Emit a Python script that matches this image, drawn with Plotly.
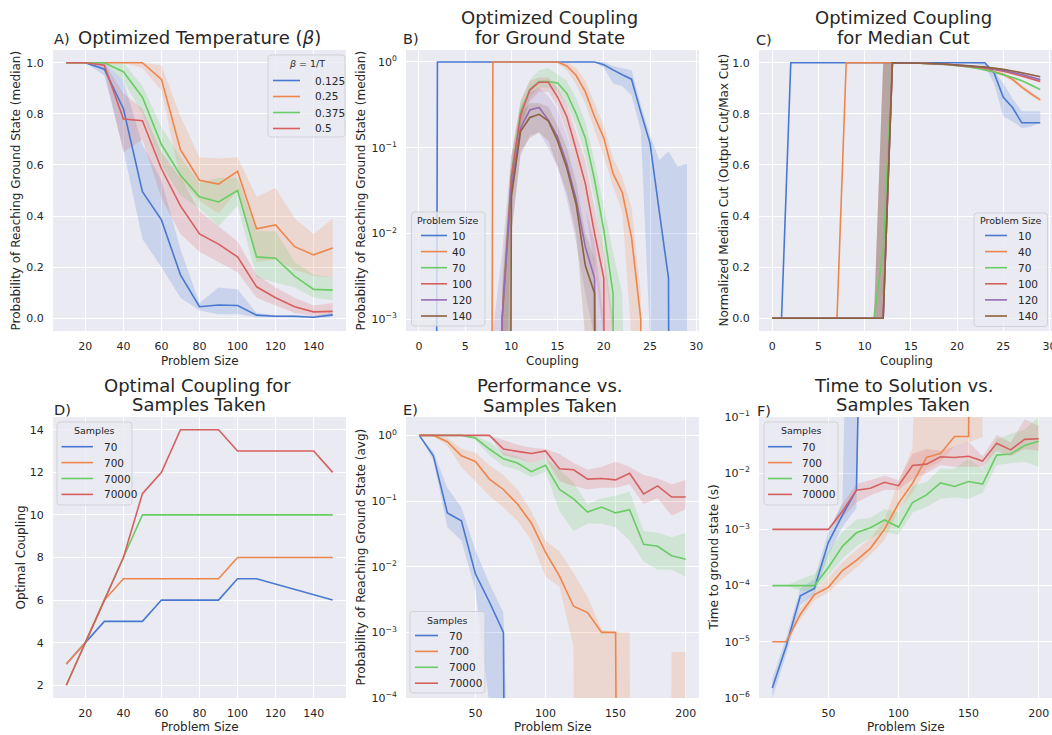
import numpy as np
import plotly.graph_objects as go

W, H = 1052, 735
FONT = "DejaVu Sans"
TEXT = "#262626"
BG = "#EAEAF2"

BLUE, ORANGE, GREEN, RED, PURPLE, BROWN = (
    "#4878d0", "#ee854a", "#6acc64", "#d65f5f", "#956cb4", "#8c613c")

# ---------------- A) success probability vs size for several beta ----------------
a_size = [10, 20, 30, 40, 50, 60, 70, 80, 90, 100, 110, 120, 130, 140, 150]
a_beta_labels = ["0.125", "0.25", "0.375", "0.5"]
a_b0125 = [1.0, 1.0, 0.975, 0.82, 0.495, 0.385, 0.17, 0.045, 0.052, 0.05, 0.012, 0.008, 0.008, 0.004, 0.013]
a_b0125_lo = [1.0, 1.0, 0.95, 0.66, 0.31, 0.2, 0.08, 0.03, 0.016, 0.016, 0.004, 0.003, 0.003, 0.002, 0.004]
a_b0125_hi = [1.0, 1.0, 1.0, 0.93, 0.68, 0.54, 0.27, 0.06, 0.12, 0.113, 0.02, 0.012, 0.012, 0.01, 0.02]
a_b025 = [1.0, 1.0, 1.0, 1.0, 1.0, 0.935, 0.66, 0.54, 0.525, 0.575, 0.35, 0.365, 0.28, 0.248, 0.275]
a_b025_lo = [1.0, 1.0, 1.0, 1.0, 0.98, 0.89, 0.54, 0.46, 0.41, 0.5, 0.22, 0.23, 0.19, 0.165, 0.16]
a_b025_hi = [1.0, 1.0, 1.0, 1.0, 1.0, 0.99, 0.79, 0.63, 0.625, 0.63, 0.476, 0.51, 0.39, 0.33, 0.39]
a_b0375 = [1.0, 1.0, 1.0, 0.965, 0.865, 0.68, 0.56, 0.475, 0.455, 0.5, 0.24, 0.235, 0.165, 0.113, 0.11]
a_b0375_lo = [1.0, 1.0, 1.0, 0.93, 0.8, 0.6, 0.48, 0.43, 0.36, 0.44, 0.16, 0.14, 0.12, 0.08, 0.07]
a_b0375_hi = [1.0, 1.0, 1.0, 1.0, 0.91, 0.75, 0.63, 0.53, 0.55, 0.55, 0.34, 0.34, 0.22, 0.17, 0.16]
a_b05 = [1.0, 1.0, 0.99, 0.78, 0.773, 0.585, 0.44, 0.33, 0.29, 0.24, 0.123, 0.08, 0.045, 0.025, 0.027]
a_b05_lo = [1.0, 1.0, 0.97, 0.65, 0.7, 0.47, 0.33, 0.26, 0.22, 0.18, 0.08, 0.05, 0.02, 0.01, 0.01]
a_b05_hi = [1.0, 1.0, 1.0, 0.88, 0.82, 0.65, 0.55, 0.42, 0.36, 0.3, 0.17, 0.12, 0.08, 0.05, 0.06]

# ---------------- B) ground-state probability vs coupling ----------------
b_coupling = list(range(30))
size_labels = ["10", "40", "70", "100", "120", "140"]
b_n10 = [0, 0, 1, 1, 1, 1, 1, 1, 1, 1, 1, 1, 1, 1, 1, 1, 1, 1, 1, 1,
         0.93, 0.81, 0.71, 0.63, 0.26, 0.113, 0.018, 0.003, 0, 0]
b_n10_lo = [0, 0, 1, 1, 1, 1, 1, 1, 1, 1, 1, 1, 1, 1, 1, 1, 1, 1, 1, 1,
            0.86, 0.56, 0.52, 0.41, 0.16, 0.0006, 0, 0, 0, 0]
b_n10_hi = [0, 0, 1, 1, 1, 1, 1, 1, 1, 1, 1, 1, 1, 1, 1, 1, 1, 1, 1, 1,
            1.0, 0.9, 0.85, 0.8, 0.32, 0.14, 0.072, 0.09, 0.06, 0.065]
b_n40 = [0, 0, 0, 0, 0, 0, 0, 0, 1, 1, 1, 1, 1, 1, 1, 1,
         0.9, 0.7, 0.45, 0.23, 0.13, 0.05, 0.03, 0.009, 0.001, 0, 0, 0, 0, 0]
b_n40_lo = [0, 0, 0, 0, 0, 0, 0, 0, 1, 1, 1, 1, 1, 1, 1, 0.97,
            0.8, 0.55, 0.33, 0.16, 0.08, 0.035, 0.018, 0.0006, 0, 0, 0, 0, 0, 0]
b_n40_hi = [0, 0, 0, 0, 0, 0, 0, 0, 1, 1, 1, 1, 1, 1, 1, 1,
            1.0, 0.85, 0.6, 0.33, 0.18, 0.075, 0.045, 0.02, 0.002, 0, 0, 0, 0, 0]
b_n70 = [0, 0, 0, 0, 0, 0, 0, 0, 0, 0.001, 0.045, 0.26, 0.48, 0.59, 0.59, 0.57,
         0.43, 0.25, 0.13, 0.042, 0.011, 0.002, 0, 0, 0, 0, 0, 0, 0, 0]
b_n70_lo = [0, 0, 0, 0, 0, 0, 0, 0, 0, 0, 0.02, 0.18, 0.38, 0.5, 0.5, 0.45,
            0.32, 0.18, 0.08, 0.025, 0.005, 0.0006, 0, 0, 0, 0, 0, 0, 0, 0]
b_n70_hi = [0, 0, 0, 0, 0, 0, 0, 0, 0, 0.003, 0.08, 0.35, 0.62, 0.8, 0.85, 0.72,
            0.6, 0.38, 0.2, 0.07, 0.02, 0.006, 0.002, 0, 0, 0, 0, 0, 0, 0]
b_n100 = [0, 0, 0, 0, 0, 0, 0, 0, 0, 0.001, 0.045, 0.24, 0.47, 0.58, 0.58, 0.39,
          0.23, 0.095, 0.038, 0.01, 0.003, 0, 0, 0, 0, 0, 0, 0, 0, 0]
b_n100_lo = [0, 0, 0, 0, 0, 0, 0, 0, 0, 0, 0.02, 0.15, 0.35, 0.45, 0.45, 0.3,
             0.15, 0.06, 0.02, 0.004, 0.0006, 0, 0, 0, 0, 0, 0, 0, 0, 0]
b_n100_hi = [0, 0, 0, 0, 0, 0, 0, 0, 0, 0.002, 0.08, 0.35, 0.6, 0.66, 0.66, 0.5,
             0.32, 0.15, 0.07, 0.02, 0.006, 0.001, 0, 0, 0, 0, 0, 0, 0, 0]
b_n120 = [0, 0, 0, 0, 0, 0, 0, 0, 0, 0.001, 0.035, 0.17, 0.275, 0.295, 0.21, 0.134,
          0.065, 0.025, 0.007, 0.003, 0, 0, 0, 0, 0, 0, 0, 0, 0, 0]
b_n120_lo = [0, 0, 0, 0, 0, 0, 0, 0, 0, 0, 0.01, 0.08, 0.14, 0.15, 0.1, 0.06,
             0.025, 0.008, 0.002, 0.0006, 0, 0, 0, 0, 0, 0, 0, 0, 0, 0]
b_n120_hi = [0, 0, 0, 0, 0, 0, 0, 0, 0.0007, 0.006, 0.08, 0.3, 0.45, 0.5, 0.4, 0.28,
             0.14, 0.06, 0.02, 0.008, 0.001, 0, 0, 0, 0, 0, 0, 0, 0, 0]
b_n140 = [0, 0, 0, 0, 0, 0, 0, 0, 0, 0, 0.027, 0.155, 0.225, 0.245, 0.205, 0.12,
          0.058, 0.022, 0.0042, 0.002, 0, 0, 0, 0, 0, 0, 0, 0, 0, 0]
b_n140_lo = [0, 0, 0, 0, 0, 0, 0, 0, 0, 0, 0.01, 0.09, 0.13, 0.15, 0.12, 0.06,
             0.03, 0.01, 0.0006, 0, 0, 0, 0, 0, 0, 0, 0, 0, 0, 0]
b_n140_hi = [0, 0, 0, 0, 0, 0, 0, 0, 0, 0.002, 0.06, 0.25, 0.33, 0.33, 0.3, 0.18,
             0.1, 0.04, 0.01, 0.005, 0, 0, 0, 0, 0, 0, 0, 0, 0, 0]

# ---------------- C) normalised median cut vs coupling ----------------
c_coupling = list(range(30))
c_n10 = [0, 0, 1, 1, 1, 1, 1, 1, 1, 1, 1, 1, 1, 1, 1, 1, 1, 1, 1, 1, 1, 1, 1, 1,
         0.96, 0.865, 0.825, 0.765, 0.765, 0.765]
c_n10_lo = [0, 0, 1, 1, 1, 1, 1, 1, 1, 1, 1, 1, 1, 1, 1, 1, 1, 1, 1, 1, 1, 1, 0.995, 0.985,
            0.92, 0.79, 0.77, 0.745, 0.75, 0.765]
c_n10_hi = [0, 0, 1, 1, 1, 1, 1, 1, 1, 1, 1, 1, 1, 1, 1, 1, 1, 1, 1, 1, 1, 1, 1, 1,
            0.97, 0.92, 0.86, 0.81, 0.81, 0.81]
c_n40 = [0, 0, 0, 0, 0, 0, 0, 0, 1, 1, 1, 1, 1, 1, 1, 0.999, 0.998, 0.997, 0.995, 0.993,
         0.99, 0.986, 0.981, 0.975, 0.965, 0.955, 0.935, 0.905, 0.878, 0.855]
c_n40_lo = [0, 0, 0, 0, 0, 0, 0, 0, 1, 1, 1, 1, 1, 1, 1, 0.998, 0.997, 0.995, 0.993, 0.99,
            0.987, 0.982, 0.976, 0.969, 0.958, 0.947, 0.927, 0.897, 0.87, 0.848]
c_n40_hi = [0, 0, 0, 0, 0, 0, 0, 0, 1, 1, 1, 1, 1, 1, 1, 1, 0.999, 0.998, 0.997, 0.995,
            0.993, 0.99, 0.986, 0.98, 0.972, 0.963, 0.943, 0.913, 0.886, 0.862]
c_n70 = [0, 0, 0, 0, 0, 0, 0, 0, 0, 0, 0, 0, 0.27, 1, 0.999, 0.999, 0.998, 0.996, 0.994, 0.992,
         0.989, 0.985, 0.98, 0.972, 0.964, 0.953, 0.942, 0.93, 0.913, 0.895]
c_n70_lo = [0, 0, 0, 0, 0, 0, 0, 0, 0, 0, 0, 0, 0, 1, 0.999, 0.998, 0.997, 0.995, 0.993, 0.99,
            0.987, 0.983, 0.977, 0.969, 0.96, 0.949, 0.938, 0.925, 0.908, 0.89]
c_n70_hi = [0, 0, 0, 0, 0, 0, 0, 0, 0, 0, 0, 0, 1, 1, 1, 1, 0.999, 0.997, 0.995, 0.993,
            0.991, 0.987, 0.983, 0.975, 0.968, 0.957, 0.946, 0.935, 0.918, 0.9]
c_n100 = [0, 0, 0, 0, 0, 0, 0, 0, 0, 0, 0, 0, 0, 1, 0.999, 0.999, 0.998, 0.997, 0.995, 0.993,
          0.99, 0.987, 0.984, 0.98, 0.974, 0.967, 0.958, 0.948, 0.938, 0.927]
c_n100_lo = [0, 0, 0, 0, 0, 0, 0, 0, 0, 0, 0, 0, 0, 1, 0.999, 0.998, 0.997, 0.996, 0.994, 0.992,
             0.988, 0.985, 0.982, 0.977, 0.971, 0.964, 0.955, 0.945, 0.934, 0.923]
c_n100_hi = [0, 0, 0, 0, 0, 0, 0, 0, 0, 0, 0, 0, 1, 1, 1, 1, 0.999, 0.998, 0.996, 0.994,
             0.992, 0.989, 0.986, 0.983, 0.977, 0.97, 0.961, 0.951, 0.942, 0.931]
c_n120 = [0, 0, 0, 0, 0, 0, 0, 0, 0, 0, 0, 0, 0, 1, 0.999, 0.999, 0.998, 0.997, 0.996, 0.994,
          0.991, 0.988, 0.985, 0.982, 0.976, 0.97, 0.962, 0.954, 0.944, 0.934]
c_n120_lo = [0, 0, 0, 0, 0, 0, 0, 0, 0, 0, 0, 0, 0, 1, 0.999, 0.998, 0.997, 0.996, 0.995, 0.993,
             0.99, 0.987, 0.983, 0.98, 0.974, 0.968, 0.959, 0.951, 0.941, 0.931]
c_n120_hi = [0, 0, 0, 0, 0, 0, 0, 0, 0, 0, 0, 0, 1, 1, 1, 1, 0.999, 0.998, 0.997, 0.995,
             0.992, 0.99, 0.987, 0.984, 0.978, 0.972, 0.965, 0.957, 0.947, 0.937]
c_n140 = [0, 0, 0, 0, 0, 0, 0, 0, 0, 0, 0, 0, 0, 1, 0.999, 0.999, 0.998, 0.997, 0.996, 0.994,
          0.991, 0.989, 0.986, 0.983, 0.979, 0.974, 0.968, 0.961, 0.953, 0.945]
c_n140_lo = [0, 0, 0, 0, 0, 0, 0, 0, 0, 0, 0, 0, 0, 1, 0.999, 0.998, 0.997, 0.996, 0.995, 0.993,
             0.99, 0.988, 0.985, 0.981, 0.977, 0.972, 0.966, 0.959, 0.951, 0.942]
c_n140_hi = [0, 0, 0, 0, 0, 0, 0, 0, 0, 0, 0, 0, 1, 1, 1, 1, 0.999, 0.998, 0.997, 0.995,
             0.992, 0.99, 0.987, 0.985, 0.981, 0.976, 0.97, 0.963, 0.955, 0.948]

# ---------------- D) optimal coupling per sample budget ----------------
sample_labels = ["70", "700", "7000", "70000"]
d_size_70 = [10, 20, 30, 40, 50, 60, 70, 80, 90, 100, 110, 150]
d_s70 = [3, 4, 5, 5, 5, 6, 6, 6, 6, 7, 7, 6]
d_size = [10, 20, 30, 40, 50, 60, 70, 80, 90, 100, 110, 120, 130, 140, 150]
d_s700 = [3, 4, 6, 7, 7, 7, 7, 7, 7, 8, 8, 8, 8, 8, 8]
d_s7000 = [2, 4, 6, 8, 10, 10, 10, 10, 10, 10, 10, 10, 10, 10, 10]
d_s70000 = [2, 4, 6, 8, 11, 12, 14, 14, 14, 13, 13, 13, 13, 13, 12]

# ---------------- E) average success probability per sample budget ----------------
e_size = [10, 20, 30, 40, 50, 60, 70, 80, 90, 100, 110, 120, 130, 140, 150, 160, 170, 180, 190, 200]
e_s70 = [1, 0.49, 0.066, 0.05, 0.0078, 0.0029, 0.001, 0, 0, 0, 0, 0, 0, 0, 0, 0, 0, 0, 0, 0]
e_s70_lo = [1, 0.42, 0.04, 0.025, 0.0044, 8e-5, 0, 0, 0, 0, 0, 0, 0, 0, 0, 0, 0, 0, 0, 0]
e_s70_hi = [1, 0.56, 0.16, 0.08, 0.018, 0.0055, 0.002, 0, 0, 0, 0, 0, 0, 0, 0, 0, 0, 0, 0, 0]
e_s700 = [1, 1.0, 0.8, 0.49, 0.4, 0.216, 0.15, 0.09, 0.046, 0.0166, 0.0072, 0.0025, 0.002, 0.001,
          0.001, 0, 0, 0, 0, 0]
e_s700_lo = [1, 0.98, 0.7, 0.33, 0.2, 0.12, 0.08, 0.05, 0.025, 0.007, 0.005, 6e-4, 0, 0, 0, 0, 0, 0, 0, 0]
e_s700_hi = [1, 1, 0.92, 0.62, 0.55, 0.35, 0.25, 0.15, 0.07, 0.025, 0.017, 0.008, 0.0035, 0.0011,
             0.001, 0.001, 0, 0, 0.0005, 0.0005]
e_s7000 = [1, 1, 1, 1, 0.91, 0.62, 0.44, 0.38, 0.28, 0.35, 0.15, 0.108, 0.068, 0.081, 0.066, 0.074,
           0.022, 0.0205, 0.0147, 0.013]
e_s7000_lo = [1, 1, 1, 1, 0.85, 0.5, 0.34, 0.3, 0.23, 0.28, 0.07, 0.035, 0.045, 0.045, 0.04, 0.025,
              0.012, 0.009, 0.009, 0.007]
e_s7000_hi = [1, 1, 1, 1, 0.97, 0.8, 0.55, 0.48, 0.38, 0.45, 0.3, 0.19, 0.09, 0.11, 0.12, 0.14,
              0.035, 0.033, 0.028, 0.033]
e_s70000 = [1, 1, 1, 1, 1, 1, 0.62, 0.57, 0.53, 0.58, 0.31, 0.3, 0.216, 0.22, 0.21, 0.264,
            0.128, 0.17, 0.115, 0.115]
e_s70000_lo = [1, 1, 1, 1, 1, 0.98, 0.5, 0.45, 0.38, 0.45, 0.2, 0.17, 0.15, 0.16, 0.16, 0.18,
               0.09, 0.11, 0.06, 0.075]
e_s70000_hi = [1, 1, 1, 1, 1, 1, 0.85, 0.72, 0.65, 0.62, 0.52, 0.38, 0.3, 0.33, 0.4, 0.33,
               0.25, 0.22, 0.18, 0.21]

# ---------------- F) time to solution per sample budget ----------------
f_size_70 = [10, 20, 30, 40, 50, 60, 70, 80]
f_s70 = [1.5e-6, 8.5e-6, 6.6e-5, 8.9e-5, 5.9e-4, 1.8e-3, 5e-3, 1e10]
f_s70_lo = [1e-6, 6e-6, 4.5e-5, 7e-5, 3.5e-4, 1.1e-3, 2.4e-3, 1e10]
f_s70_hi = [2.2e-6, 1.2e-5, 9e-5, 1.3e-4, 9e-4, 3e-3, 1e9, 1e10]
f_size_700 = [10, 20, 30, 40, 50, 60, 70, 80, 90, 100, 110, 120, 130, 140, 150, 160]
f_s700 = [1e-5, 1e-5, 3.1e-5, 6.9e-5, 9.3e-5, 1.85e-4, 2.8e-4, 4.6e-4, 1e-3, 2.9e-3, 6.6e-3,
          1.9e-2, 2.25e-2, 4.5e-2, 4.5e-2, 1e30]
f_s700_lo = [1e-5, 1e-5, 2.5e-5, 5.5e-5, 7.5e-5, 1.3e-4, 2.1e-4, 3.5e-4, 6.5e-4, 2.2e-3, 4.5e-3,
             1.2e-2, 1.6e-2, 3e-2, 3.5e-2, 4.4e-2]
f_s700_hi = [1e-5, 1e-5, 4e-5, 8e-5, 1.4e-4, 2.6e-4, 4.3e-4, 7e-4, 1.5e-3, 7e-3, 2.8e-2,
             1e30, 1e30, 1e30, 1e30, 4.6e-2]
f_size = [10, 20, 30, 40, 50, 60, 70, 80, 90, 100, 110, 120, 130, 140, 150, 160, 170, 180, 190, 200]
f_s7000 = [1e-4, 1e-4, 1e-4, 1e-4, 2.1e-4, 5e-4, 8.7e-4, 1.07e-3, 1.47e-3, 1.1e-3, 3e-3, 4.1e-3,
           6.7e-3, 5.8e-3, 7.1e-3, 6.4e-3, 2.1e-2, 2.2e-2, 3.1e-2, 3.7e-2]
f_s7000_lo = [1e-4, 1e-4, 8e-5, 8e-5, 1.5e-4, 3e-4, 5e-4, 7e-4, 9e-4, 8e-4, 2e-3, 2.5e-3,
              3.5e-3, 3.7e-3, 3.5e-3, 4.5e-3, 1.4e-2, 1.5e-2, 1.6e-2, 1.3e-2]
f_s7000_hi = [1e-4, 1e-4, 1.3e-4, 1.6e-4, 4e-4, 9e-4, 1.5e-3, 1.6e-3, 2.3e-3, 2e-3, 6e-3, 7e-3,
              1.2e-2, 1.2e-2, 1.8e-2, 1.2e-2, 4e-2, 5e-2, 6e-2, 1e-1]
f_s70000 = [1e-3, 1e-3, 1e-3, 1e-3, 1e-3, 2.1e-3, 5e-3, 5.4e-3, 6.9e-3, 6e-3, 1.37e-2, 1.45e-2,
            1.96e-2, 1.9e-2, 2e-2, 1.64e-2, 3.4e-2, 2.6e-2, 4e-2, 4.1e-2]
f_s70000_lo = [1e-3, 1e-3, 1e-3, 1e-3, 1e-3, 1.6e-3, 3e-3, 4e-3, 5e-3, 5e-3, 8e-3, 1e-2,
               1.4e-2, 1.3e-2, 1.3e-2, 1.3e-2, 2.5e-2, 2e-2, 2.7e-2, 2.5e-2]
f_s70000_hi = [1e-3, 1e-3, 1e-3, 1e-3, 1e-3, 2.8e-3, 6.5e-3, 7.5e-3, 9e-3, 7.5e-3, 2.2e-2, 2.7e-2,
               2.5e-2, 3e-2, 3.6e-2, 2e-2, 4.8e-2, 3.5e-2, 9e-2, 7e-2]

# ------------------------------------------------------------------------------
LOG_FLOOR = 1e-40   # non-positive values on log axes are clipped here (like matplotlib)


def px_x(p):
    return p / W


def px_y(p):
    return 1 - p / H


def rgba(hex_color, alpha):
    h = hex_color.lstrip("#")
    return "rgba({},{},{},{})".format(int(h[0:2], 16), int(h[2:4], 16), int(h[4:6], 16), alpha)


fig = go.Figure()


def add_band(x, lo, hi, color, ax, log=False):
    lo = np.asarray(lo, float)
    hi = np.asarray(hi, float)
    if log:
        lo = np.clip(lo, LOG_FLOOR, None)
        hi = np.clip(hi, LOG_FLOOR, None)
    xs = list(x) + list(x)[::-1]
    ys = list(hi) + list(lo[::-1])
    fig.add_trace(go.Scatter(x=xs, y=ys, mode="lines", fill="toself",
                             fillcolor=rgba(color, 0.2), line=dict(width=0, color=rgba(color, 0)),
                             hoverinfo="skip", showlegend=False, xaxis=ax[0], yaxis=ax[1]))


def add_line(x, y, color, ax, log=False):
    y = np.asarray(y, float)
    if log:
        y = np.clip(y, LOG_FLOOR, None)
    fig.add_trace(go.Scatter(x=list(x), y=list(y), mode="lines",
                             line=dict(color=color, width=1.6, simplify=False),
                             showlegend=False, xaxis=ax[0], yaxis=ax[1]))


AX = {"A": ("x", "y"), "B": ("x2", "y2"), "C": ("x3", "y3"),
      "D": ("x4", "y4"), "E": ("x5", "y5"), "F": ("x6", "y6")}

colors4 = [BLUE, ORANGE, GREEN, RED]
colors6 = [BLUE, ORANGE, GREEN, RED, PURPLE, BROWN]

# A
a_series = [(a_b0125, a_b0125_lo, a_b0125_hi), (a_b025, a_b025_lo, a_b025_hi),
            (a_b0375, a_b0375_lo, a_b0375_hi), (a_b05, a_b05_lo, a_b05_hi)]
for (m, lo, hi), c in zip(a_series, colors4):
    add_band(a_size, lo, hi, c, AX["A"])
for (m, lo, hi), c in zip(a_series, colors4):
    add_line(a_size, m, c, AX["A"])

# B
b_series = [(b_n10, b_n10_lo, b_n10_hi), (b_n40, b_n40_lo, b_n40_hi), (b_n70, b_n70_lo, b_n70_hi),
            (b_n100, b_n100_lo, b_n100_hi), (b_n120, b_n120_lo, b_n120_hi),
            (b_n140, b_n140_lo, b_n140_hi)]
for (m, lo, hi), c in zip(b_series, colors6):
    add_band(b_coupling, lo, hi, c, AX["B"], log=True)
for (m, lo, hi), c in zip(b_series, colors6):
    add_line(b_coupling, m, c, AX["B"], log=True)

# C
c_series = [(c_n10, c_n10_lo, c_n10_hi), (c_n40, c_n40_lo, c_n40_hi), (c_n70, c_n70_lo, c_n70_hi),
            (c_n100, c_n100_lo, c_n100_hi), (c_n120, c_n120_lo, c_n120_hi),
            (c_n140, c_n140_lo, c_n140_hi)]
for (m, lo, hi), c in zip(c_series, colors6):
    add_band(c_coupling, lo, hi, c, AX["C"])
for (m, lo, hi), c in zip(c_series, colors6):
    add_line(c_coupling, m, c, AX["C"])

# D
for xs, ys, c in [(d_size_70, d_s70, BLUE), (d_size, d_s700, ORANGE),
                  (d_size, d_s7000, GREEN), (d_size, d_s70000, RED)]:
    add_line(xs, ys, c, AX["D"])

# E
e_series = [(e_s70, e_s70_lo, e_s70_hi), (e_s700, e_s700_lo, e_s700_hi),
            (e_s7000, e_s7000_lo, e_s7000_hi), (e_s70000, e_s70000_lo, e_s70000_hi)]
for (m, lo, hi), c in zip(e_series, colors4):
    add_band(e_size, lo, hi, c, AX["E"], log=True)
for (m, lo, hi), c in zip(e_series, colors4):
    add_line(e_size, m, c, AX["E"], log=True)

# F
f_series = [(f_size_70, f_s70, f_s70_lo, f_s70_hi), (f_size_700, f_s700, f_s700_lo, f_s700_hi),
            (f_size, f_s7000, f_s7000_lo, f_s7000_hi), (f_size, f_s70000, f_s70000_lo, f_s70000_hi)]
for (xs, m, lo, hi), c in zip(f_series, colors4):
    add_band(xs, lo, hi, c, AX["F"], log=True)
for (xs, m, lo, hi), c in zip(f_series, colors4):
    add_line(xs, m, c, AX["F"], log=True)

# ---------------- axes ----------------
TICKFONT = dict(family=FONT, size=11, color=TEXT)


def sup(n):
    return "10<sup>{}</sup>".format(str(n).replace("-", "\u2212"))


def axis(domain_px, **kw):
    base = dict(domain=[px_x(domain_px[0]), px_x(domain_px[1])], automargin=False,
                showgrid=True, gridcolor="white", gridwidth=1.2, zeroline=False,
                showline=False, ticks="outside", ticklen=5, tickcolor="rgba(0,0,0,0)",
                tickfont=TICKFONT, fixedrange=True, ticklabeloverflow="allow")
    base.update(kw)
    return base


def yaxis(domain_px, **kw):
    base = dict(domain=[px_y(domain_px[1]), px_y(domain_px[0])], automargin=False,
                showgrid=True, gridcolor="white", gridwidth=1.2, zeroline=False,
                showline=False, ticks="outside", ticklen=6, tickcolor="rgba(0,0,0,0)",
                tickfont=TICKFONT, fixedrange=True)
    base.update(kw)
    return base


COL = [(53, 346), (406, 699), (759, 1052)]
ROW_TOP = (50, 331)
ROW_BOT = (417, 698)
lin_vals = [0, 0.2, 0.4, 0.6, 0.8, 1.0]
lin_text = ["0.0", "0.2", "0.4", "0.6", "0.8", "1.0"]
size_ticks = [20, 40, 60, 80, 100, 120, 140]
coup_ticks = [0, 5, 10, 15, 20, 25, 30]
big_ticks = [50, 100, 150, 200]

fig.update_layout(
    xaxis=axis(COL[0], anchor="y", range=[3, 157], tickvals=size_ticks),
    yaxis=yaxis(ROW_TOP, anchor="x", range=[-0.05, 1.05], tickvals=lin_vals, ticktext=lin_text),
    xaxis2=axis(COL[1], anchor="y2", range=[-1.4, 30.3], tickvals=coup_ticks),
    yaxis2=yaxis(ROW_TOP, anchor="x2", type="log", range=[-3.14, 0.14],
                 tickvals=[1e-3, 1e-2, 1e-1, 1], ticktext=[sup(-3), sup(-2), sup(-1), sup(0)]),
    xaxis3=axis(COL[2], anchor="y3", range=[-1.44, 30.27], tickvals=coup_ticks),
    yaxis3=yaxis(ROW_TOP, anchor="x3", range=[-0.05, 1.05], tickvals=lin_vals, ticktext=lin_text),
    xaxis4=axis(COL[0], anchor="y4", range=[3, 157], tickvals=size_ticks),
    yaxis4=yaxis(ROW_BOT, anchor="x4", range=[1.4, 14.6], tickvals=[2, 4, 6, 8, 10, 12, 14]),
    xaxis5=axis(COL[1], anchor="y5", range=[0.5, 209.5], tickvals=big_ticks),
    yaxis5=yaxis(ROW_BOT, anchor="x5", type="log", range=[-4, 0.28],
                 tickvals=[1e-4, 1e-3, 1e-2, 1e-1, 1],
                 ticktext=[sup(-4), sup(-3), sup(-2), sup(-1), sup(0)]),
    xaxis6=axis(COL[2], anchor="y6", range=[0.5, 209.5], tickvals=big_ticks),
    yaxis6=yaxis(ROW_BOT, anchor="x6", type="log", range=[-6, -1],
                 tickvals=[1e-6, 1e-5, 1e-4, 1e-3, 1e-2, 1e-1],
                 ticktext=[sup(-6), sup(-5), sup(-4), sup(-3), sup(-2), sup(-1)]),
)

# ---------------- text: titles, panel letters, axis titles ----------------
annotations = []
shapes = []


def text(px, py, s, size, xanchor="center", angle=0):
    annotations.append(dict(x=px_x(px), y=px_y(py), xref="paper", yref="paper", text=s,
                            showarrow=False, xanchor=xanchor, yanchor="middle", textangle=angle,
                            font=dict(family=FONT, size=size, color=TEXT)))


TITLE = 18
LETTER = 14.5
LABEL = 12

text(199.5, 37, "Optimized Temperature (<i>β</i>)", TITLE)
text(549.5, 18, "Optimized Coupling", TITLE)
text(549.5, 37, "for Ground State", TITLE)
text(903, 18, "Optimized Coupling", TITLE)
text(903, 37, "for Median Cut", TITLE)
text(197, 385.5, "Optimal Coupling for", TITLE)
text(199, 404.5, "Samples Taken", TITLE)
text(550, 385.5, "Performance vs.", TITLE)
text(550, 405.5, "Samples Taken", TITLE)
text(903.5, 385, "Time to Solution vs.", TITLE)
text(903.5, 404.5, "Samples Taken", TITLE)

for lx, ly, s in [(52, 39, "A)"), (401, 39, "B)"), (754, 40, "C)"),
                  (52, 410, "D)"), (401, 410, "E)"), (755, 411, "F)")]:
    text(lx, ly, s, LETTER, xanchor="left")

for cx, cy, s in [(199.5, 361, "Problem Size"), (552.5, 361, "Coupling"), (906, 361, "Coupling"),
                  (199.5, 727, "Problem Size"), (552.5, 727, "Problem Size"),
                  (906, 727, "Problem Size")]:
    text(cx, cy, s, LABEL)

for cx, cy, s in [(15, 190.5, "Probability of Reaching Ground State (median)"),
                  (360, 190.5, "Probability of Reaching Ground State (median)"),
                  (723, 190.5, "Normalized Median Cut (Output Cut/Max Cut)"),
                  (20, 557.5, "Optimal Coupling"),
                  (360, 557.5, "Probability of Reaching Ground State (avg)"),
                  (713, 557.5, "Time to ground state (s)")]:
    text(cx, cy, s, LABEL, angle=-90)


# ---------------- legends ----------------
def rounded_box(x0, y0, x1, y1, r=3):
    X0, X1 = px_x(x0), px_x(x1)
    Y0, Y1 = px_y(y0), px_y(y1)
    rx, ry = r / W, r / H
    path = (f"M {X0 + rx},{Y0} L {X1 - rx},{Y0} Q {X1},{Y0} {X1},{Y0 - ry} "
            f"L {X1},{Y1 + ry} Q {X1},{Y1} {X1 - rx},{Y1} L {X0 + rx},{Y1} "
            f"Q {X0},{Y1} {X0},{Y1 + ry} L {X0},{Y0 - ry} Q {X0},{Y0} {X0 + rx},{Y0} Z")
    shapes.append(dict(type="path", path=path, xref="paper", yref="paper",
                       fillcolor="rgba(234,234,242,0.8)", line=dict(color="rgba(204,204,204,0.8)", width=1)))


def legend(box, title, labels, colors, first_y, step, line_x, text_x, title_y):
    x0, y0, x1, y1 = box
    rounded_box(x0, y0, x1, y1)
    text((x0 + x1) / 2, title_y, title, 9.5)
    for i, (lab, col) in enumerate(zip(labels, colors)):
        yy = first_y + i * step
        shapes.append(dict(type="line", xref="paper", yref="paper",
                           x0=px_x(line_x[0]), x1=px_x(line_x[1]), y0=px_y(yy), y1=px_y(yy),
                           line=dict(color=col, width=1.6)))
        text(text_x, yy, lab, 10.5, xanchor="left")


legend((268, 55, 345, 137), "<i>β</i> = 1/T", a_beta_labels, colors4, 80.5, 16, (273, 300), 313, 63)
legend((411.5, 212, 485, 326), "Problem Size", size_labels, colors6, 235.5, 16.1, (421, 447), 450, 220)
legend((974, 213, 1047.5, 326.5), "Problem Size", size_labels, colors6, 235.5, 16.1, (985, 1007), 1016, 220)
legend((57, 422, 132, 505), "Samples", sample_labels, colors4, 446.7, 15.9, (61.5, 93), 101.5, 430.7)
legend((410, 611.5, 485, 693), "Samples", sample_labels, colors4, 635.5, 15.9, (415, 438), 446.5, 620)
legend((764, 422, 838, 505), "Samples", sample_labels, colors4, 446.7, 15.9, (768, 792), 800, 430.7)

fig.update_layout(
    width=W, height=H, autosize=False,
    margin=dict(l=0, r=0, t=0, b=0, pad=0),
    paper_bgcolor="white", plot_bgcolor=BG,
    font=dict(family=FONT, color=TEXT),
    showlegend=False,
    annotations=annotations, shapes=shapes,
)

fig.write_html("out.html")
